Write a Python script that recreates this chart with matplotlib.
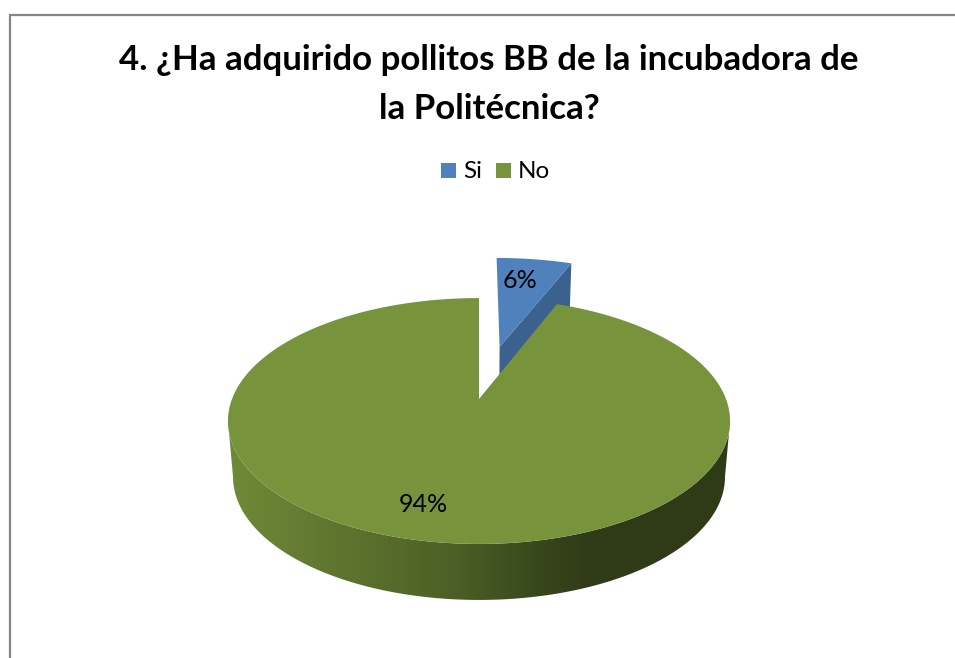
import numpy as np
import matplotlib.pyplot as plt
from matplotlib.colors import LinearSegmentedColormap
from matplotlib.patches import Polygon, Rectangle

plt.rcParams['font.family'] = ['Lato', 'DejaVu Sans']

# Pie data
categories = ["Si", "No"]
shares = [6, 94]
title_lines = ["4. ¿Ha adquirido pollitos BB de la incubadora de", "la Politécnica?"]

TOP_BLUE = "#4F81BD"
SIDE_BLUE = "#3B618F"
TOP_GREEN = "#77933C"

# Perspective of the disc, in pixels
CX, CY = 479, 399
KP = 0.179
EXPLODE = 0.483
SI_RADIUS = 1.03


def project(u, v, bottom=False):
    # disc coordinates to pixels, either the top face or the bottom face
    d = 1 + KP * v
    if bottom:
        return CX + 242 * u / d, CY + 56 - 119 * v / d
    return CX + 247 * u / d, CY - 119 * v / d


def arc(start, stop, off=(0, 0), bottom=False, r=1):
    t = np.radians(np.linspace(start, stop, 200))
    return project(off[0] + r * np.sin(t), off[1] + r * np.cos(t), bottom)


def wedge(start, stop, off=(0, 0), r=1):
    x, y = arc(start, stop, off, r=r)
    ax0, ay0 = project(off[0], off[1])
    return np.column_stack([np.r_[ax0, x], np.r_[ay0, y]])


fig = plt.figure(figsize=(9.55, 6.58), dpi=100)
ax = fig.add_axes([0, 0, 1, 1])
ax.axis("off")

# Chart frame
ax.plot([10, 10, 955], [658, 15, 15], color="#868686", lw=1.6, solid_joinstyle="miter")

# Title
ax.text(489, 60, title_lines[0], fontsize=25.1, fontweight="bold", ha="center", va="center")
ax.text(489, 109, title_lines[1], fontsize=25.1, fontweight="bold", ha="center", va="center")

# Legend
ax.add_patch(Rectangle((441, 163), 15, 15, color=TOP_BLUE, lw=0))
ax.text(463, 171.5, categories[0], fontsize=17.5, ha="left", va="center")
ax.add_patch(Rectangle((496, 163), 15, 15, color=TOP_GREEN, lw=0))
ax.text(518, 171.5, categories[1], fontsize=17.5, ha="left", va="center")

# Angles come from the shares, clockwise from twelve o'clock
si_angle = 360 * shares[0] / sum(shares)
mid = np.radians(si_angle / 2)
off = (EXPLODE * np.sin(mid), EXPLODE * np.cos(mid))

# Exploded slice: cut wall first, then its top
ax0, ay0 = project(*off)
bx0, by0 = project(*off, bottom=True)
tx, ty = arc(si_angle, si_angle, off, r=SI_RADIUS)
bx, by = arc(si_angle, si_angle, off, bottom=True, r=SI_RADIUS)
wall = [(ax0, ay0), (tx[0], ty[0]), (bx[0], by[0]), (bx0, by0)]
ax.add_patch(Polygon(wall, closed=True, color=SIDE_BLUE, lw=0, zorder=2))
ax.add_patch(Polygon(wedge(0, si_angle, off, r=SI_RADIUS), closed=True, color=TOP_BLUE, lw=0, zorder=3))

# Rim of the big slice with its shading, widest point to widest point
rim_x, rim_y = arc(100.3, 259.7)
rim_bx, rim_by = arc(100.3, 259.7, bottom=True)
rim = Polygon(np.column_stack([np.r_[rim_x, rim_bx[::-1]], np.r_[rim_y, rim_by[::-1]]]),
              closed=True, color="none", lw=0, zorder=4)
ax.add_patch(rim)
shade = LinearSegmentedColormap.from_list("rim", [
    (0.00, "#6F8A38"), (0.22, "#5F752F"), (0.45, "#4C5F26"),
    (0.62, "#37471C"), (0.72, "#2F3B17"), (1.00, "#2F3B17")])
img = ax.imshow(np.linspace(0, 1, 512)[None, :], cmap=shade, aspect="auto",
                extent=(228, 730, 620, 400), zorder=4)
img.set_clip_path(rim)

# Top of the big slice
ax.add_patch(Polygon(wedge(si_angle, 360), closed=True, color=TOP_GREEN, lw=0, zorder=5))

# Data labels
ax.text(520, 280, f"{shares[0]}%", fontsize=18, ha="center", va="center", zorder=6)
ax.text(423, 505, f"{shares[1]}%", fontsize=18, ha="center", va="center", zorder=6)

ax.set_xlim(0, 955)
ax.set_ylim(658, 0)

fig.savefig("out.png", dpi=100, facecolor="white")
